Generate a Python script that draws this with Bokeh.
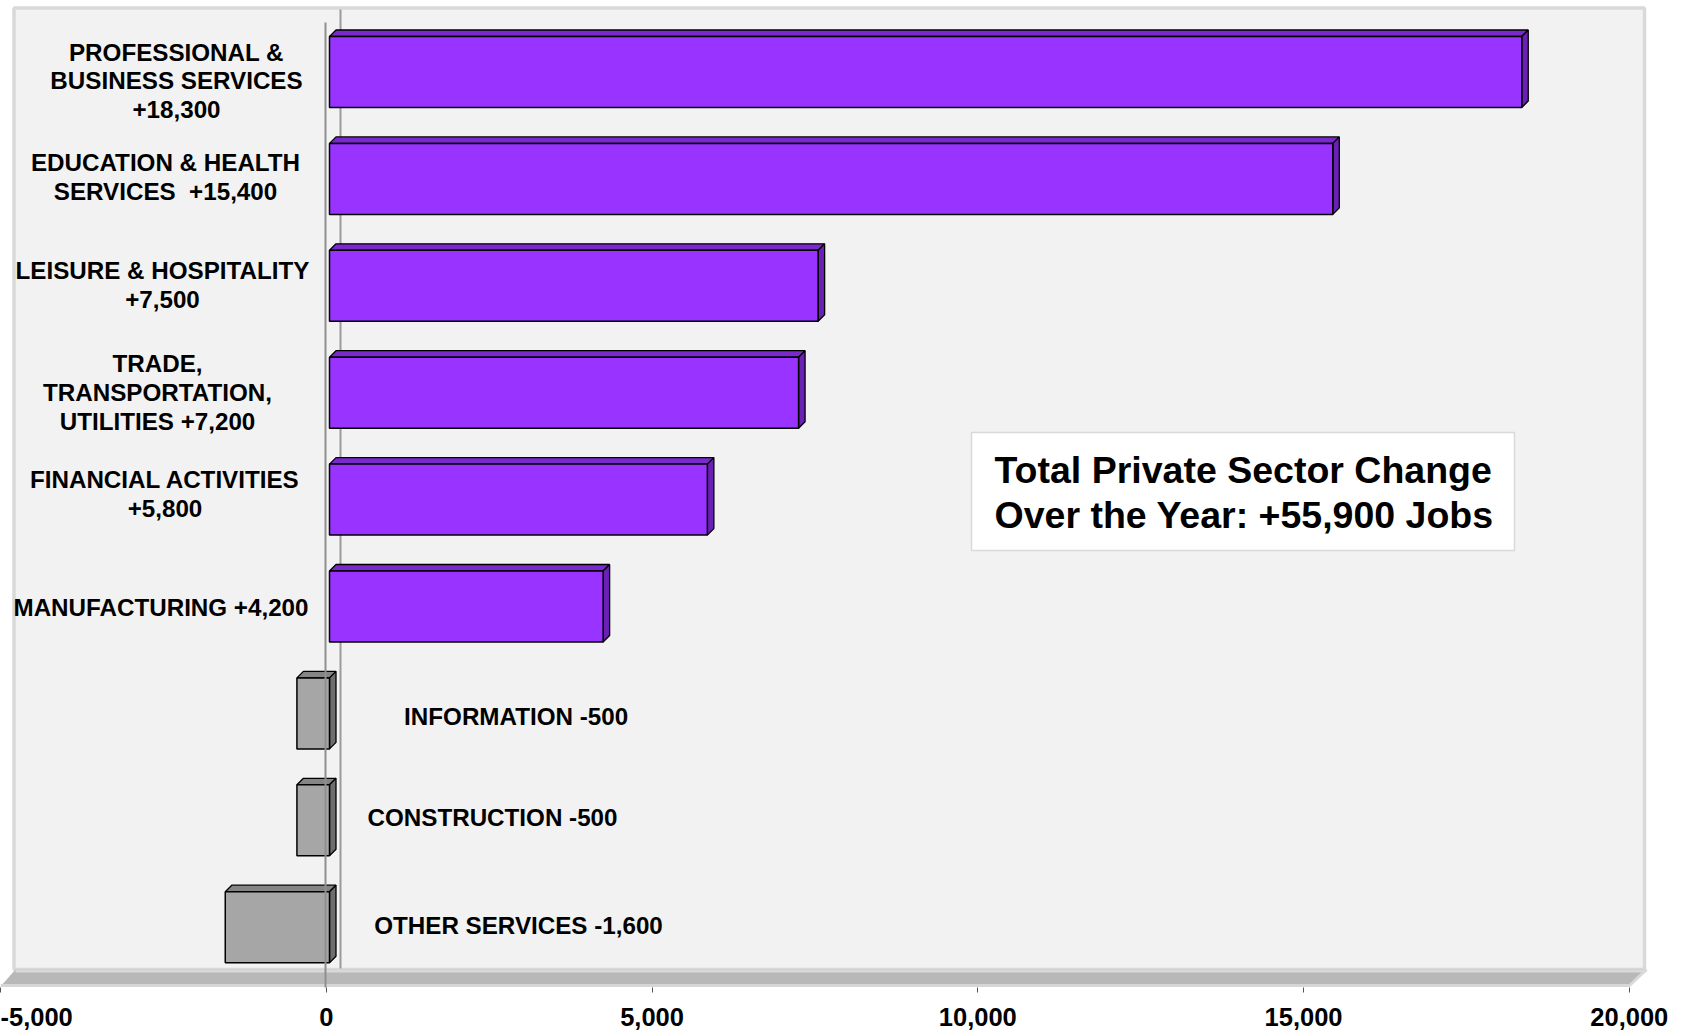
from bokeh.plotting import figure
from bokeh.models import Range1d, LinearAxis, FixedTicker, NumeralTickFormatter, ColumnDataSource
from bokeh.core.properties import value
from bokeh.embed import file_html
from bokeh.resources import INLINE

# ---------------- data ----------------
categories = ["Professional & Business Services", "Education & Health Services",
              "Leisure & Hospitality", "Trade, Transportation, Utilities",
              "Financial Activities", "Manufacturing", "Information",
              "Construction", "Other Services"]
values = [18300, 15400, 7500, 7200, 5800, 4200, -500, -500, -1600]
bar_labels = ["PROFESSIONAL &\nBUSINESS SERVICES\n+18,300",
              "EDUCATION & HEALTH\nSERVICES\u00a0 +15,400",
              "LEISURE & HOSPITALITY\n+7,500",
              "TRADE,\nTRANSPORTATION,\nUTILITIES +7,200",
              "FINANCIAL ACTIVITIES\n+5,800",
              "MANUFACTURING +4,200",
              "INFORMATION -500",
              "CONSTRUCTION -500",
              "OTHER SERVICES -1,600"]
tick_values = [-5000, 0, 5000, 10000, 15000, 20000]
total_text = ["Total Private Sector Change", "Over the Year: +55,900 Jobs"]

# ---------------- layout / style ----------------
W, H, AXIS_H = 1683, 1034, 47
FH = H - AXIS_H
K = 1303 / 20000.0          # px per job
ZERO_PX = 329               # px of bar zero plane
ROW_PX = 106.9
ROW0_PX = 71.5
HALF = 0.332                # half bar thickness (category units)
DEPTH_PX = 6.5
DX = DEPTH_PX / K
DY = DEPTH_PX / ROW_PX

LABEL_X_PX = [176, 165, 162, 157, 164.5, 160.5, 515.6, 492, 518]
LABEL_DY_PX = [9, -2, -1, 0, -6, 1, 3, -3, -2]

PURPLE = ("#9933ff", "#7a29cc", "#6a1fb5")
GREY = ("#a6a6a6", "#858585", "#6e6e6e")
FONT = value("Liberation Sans")


def sx(px):  # px -> data x
    return (px - ZERO_PX) / K


def sy(py):  # px -> data y
    return (py - ROW0_PX) / ROW_PX


x_range = Range1d(-ZERO_PX / K, (W - ZERO_PX) / K)
ax_range = Range1d(-5001, -5001 + W / K)
y_range = Range1d(start=(FH - ROW0_PX) / ROW_PX, end=-ROW0_PX / ROW_PX)

p = figure(width=W, height=H, output_backend="svg", toolbar_location=None,
           x_range=x_range, y_range=y_range,
           x_axis_location=None, y_axis_location=None,
           min_border_left=0, min_border_right=0, min_border_top=0,
           min_border_bottom=AXIS_H)
p.extra_x_ranges = {"ax": ax_range}
p.outline_line_color = None
p.background_fill_color = "white"
p.border_fill_color = "white"
p.grid.visible = False

# wall
p.quad(left=[sx(13.5)], right=[sx(1644)], top=[sy(7.5)], bottom=[sy(969)],
       fill_color="#f2f2f2", line_color="#d9d9d9", line_width=3.5)
# back zero line
p.segment(x0=[sx(340)], x1=[sx(340)], y0=[sy(9)], y1=[sy(968)],
          line_color="#9a9a9a", line_width=2)
# floor
p.patch(x=[sx(15), sx(1646), sx(1628), sx(0)], y=[sy(969), sy(969), sy(986), sy(986)],
        fill_color="#b8b8b8", line_color=None)
p.line(x=[sx(15), sx(1646)], y=[sy(970.5)] * 2, line_color="#d9d9d9", line_width=3)
p.line(x=[sx(0), sx(1628)], y=[sy(985)] * 2, line_color="#d6d6d6", line_width=3)
p.line(x=[sx(1646), sx(1628)], y=[sy(969), sy(986)], line_color="#d9d9d9", line_width=3)

# bars (3-D look)
rows = list(range(len(values)))
lefts = [min(v, 0) for v in values]
rights = [max(v, 0) for v in values]
fronts = [PURPLE[0] if v >= 0 else GREY[0] for v in values]
tops_c = [PURPLE[1] if v >= 0 else GREY[1] for v in values]
sides_c = [PURPLE[2] if v >= 0 else GREY[2] for v in values]

top_xs, top_ys, side_xs, side_ys = [], [], [], []
for i, l, r in zip(rows, lefts, rights):
    t, b = i - HALF, i + HALF
    top_xs.append([l, l + DX, r + DX, r])
    top_ys.append([t, t - DY, t - DY, t])
    side_xs.append([r, r + DX, r + DX, r])
    side_ys.append([t, t - DY, b - DY, b])

p.patches(xs=top_xs, ys=top_ys, fill_color=tops_c, line_color="black", line_width=1.3)
p.patches(xs=side_xs, ys=side_ys, fill_color=sides_c, line_color="black", line_width=1.3)
p.quad(left=lefts, right=rights, top=[i - HALF for i in rows], bottom=[i + HALF for i in rows],
       fill_color=fronts, line_color="black", line_width=1.5)

# front zero line
p.segment(x0=[sx(325)], x1=[sx(325)], y0=[sy(22)], y1=[sy(990)],
          line_color="#8f8f8f", line_width=2)

# category labels
lab_src = ColumnDataSource(dict(
    x=[sx(px) for px in LABEL_X_PX],
    y=[i + dy / ROW_PX for i, dy in zip(rows, LABEL_DY_PX)],
    text=bar_labels))
p.text(x="x", y="y", text="text", source=lab_src, text_font=FONT,
       text_font_style="bold", text_font_size="24.2px", text_color="black",
       text_align="center", text_baseline="middle", text_line_height=1.07)

# total box
p.quad(left=[sx(971)], right=[sx(1514)], top=[sy(432)], bottom=[sy(550)],
       fill_color="white", line_color="#d9d9d9", line_width=1.5)
p.text(x=[sx(994)] * 2, y=[sy(469), sy(514)], text=total_text, text_font=FONT,
       text_font_style="bold", text_font_size="37.5px", text_color="black",
       text_align="left", text_baseline="middle")

# axis
ax = LinearAxis(x_range_name="ax", ticker=FixedTicker(ticks=tick_values),
                formatter=NumeralTickFormatter(format="0,0"))
ax.axis_line_color = None
ax.major_tick_in = 0
ax.major_tick_out = 5
ax.major_tick_line_color = "#555555"
ax.minor_tick_line_color = None
ax.major_label_standoff = 15
ax.major_label_text_font = "Liberation Sans"
ax.major_label_text_font_style = "bold"
ax.major_label_text_font_size = "25.5px"
ax.major_label_text_color = "black"
p.add_layout(ax, "below")

open("out.html", "w").write(file_html(p, INLINE))
